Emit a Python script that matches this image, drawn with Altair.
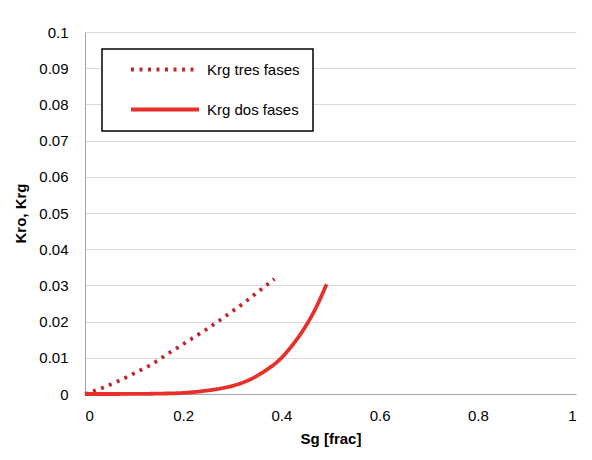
import altair as alt
import pandas as pd

# Krg tres fases (dotted)
sg_tres = [0.0, 0.03, 0.07, 0.10, 0.133, 0.17, 0.214, 0.25, 0.282, 0.321, 0.355, 0.386]
krg_tres = [0.0, 0.0014, 0.0037, 0.0057, 0.008, 0.0112, 0.015, 0.0181, 0.0211, 0.0249, 0.0285, 0.0318]

# Krg dos fases (solid)
sg_dos = [0.0, 0.05, 0.10, 0.15, 0.20, 0.24, 0.275, 0.316, 0.345, 0.37, 0.395, 0.42, 0.445, 0.468, 0.492]
krg_dos = [0.0, 0.0, 0.00003, 0.0001, 0.0003, 0.0008, 0.0015, 0.0029, 0.0046, 0.0067, 0.0093, 0.0131, 0.0178, 0.0232, 0.0303]

series = ["Krg tres fases", "Krg dos fases"]
x_ticks = [0, 0.2, 0.4, 0.6, 0.8, 1.0]
y_ticks = [0, 0.01, 0.02, 0.03, 0.04, 0.05, 0.06, 0.07, 0.08, 0.09, 0.1]

df = pd.concat([
    pd.DataFrame({"Sg": sg_tres, "Kr": krg_tres, "serie": series[0], "ord": range(len(sg_tres))}),
    pd.DataFrame({"Sg": sg_dos, "Kr": krg_dos, "serie": series[1], "ord": range(len(sg_dos))}),
])

FONT = "Liberation Sans"

legend = alt.Legend(
    title=None, orient="none", legendX=17, legendY=17, padding=13,
    strokeColor="black", fillColor="white", symbolType="stroke",
    symbolSize=4624, symbolOffset=14, labelOffset=6, clipHeight=15,
    rowPadding=24, labelFontSize=15, labelFont=FONT, labelColor="black",
    symbolStrokeWidth=3.8,
)

chart = alt.Chart(df).mark_line(strokeWidth=3.8, interpolate="monotone", strokeCap="butt").encode(
    x=alt.X("Sg:Q", scale=alt.Scale(domain=[0, 1], nice=False),
            axis=alt.Axis(title="Sg [frac]", values=x_ticks, format="~g", grid=False,
                          titleY=44, titleBaseline="middle", labelPadding=14)),
    y=alt.Y("Kr:Q", scale=alt.Scale(domain=[0, 0.1], nice=False),
            axis=alt.Axis(title="Kro, Krg", values=y_ticks, format="~g", grid=True,
                          titleX=-65, titleY=181, titleBaseline="middle", labelPadding=17)),
    color=alt.Color("serie:N", scale=alt.Scale(domain=series, range=["#C0282D", "#E8302A"]), legend=legend),
    strokeDash=alt.StrokeDash("serie:N", scale=alt.Scale(domain=series, range=[[3, 5.5], [1, 0]]), legend=legend),
    detail="serie:N",
    order="ord:Q",
).properties(
    width=491, height=362,
    autosize=alt.AutoSizeParams(type="none"),
    padding={"left": 77, "top": 24, "right": 8, "bottom": 58},
).configure_view(stroke=None).configure_axis(
    labelFont=FONT, labelFontSize=15, labelColor="black",
    titleFont=FONT, titleFontSize=15, titleFontWeight="bold", titleColor="black",
    ticks=False, domainColor="#A6A6A6", domainWidth=1,
    gridColor="#D9D9D9", gridWidth=1,
).configure_legend(strokeWidth=1.5)

chart.save("out.html", embed_options={"renderer": "svg", "actions": False})
